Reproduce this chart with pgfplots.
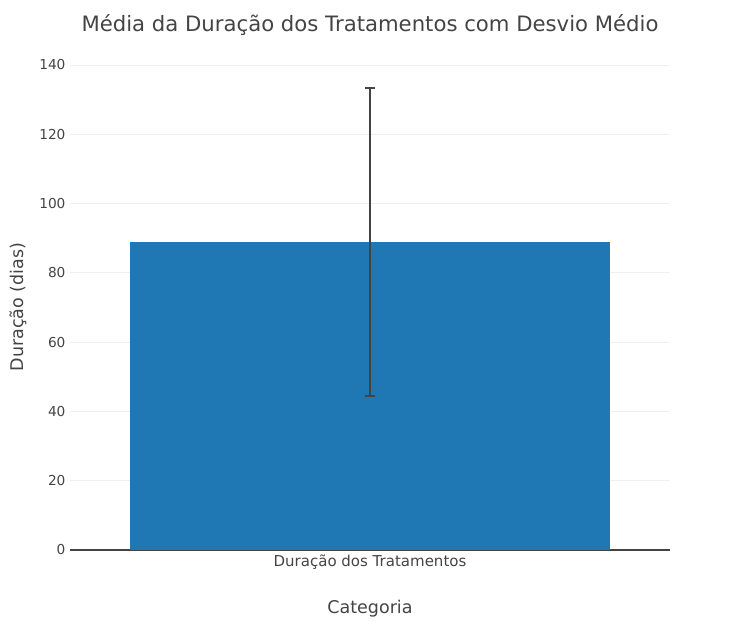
\documentclass[border=0pt]{standalone}
\usepackage{fontspec}
\setmainfont{DejaVu Sans}
\usepackage{pgfplots}
\pgfplotsset{compat=1.18}
\definecolor{barblue}{HTML}{1F77B4}
\definecolor{txt}{HTML}{444444}
\definecolor{gridc}{HTML}{EEEEEE}
\begin{document}
\begin{tikzpicture}
\useasboundingbox (-70pt,-79pt) rectangle (683pt,550pt);
\begin{axis}[
  at={(0,0)}, anchor=south west,
  scale only axis,
  width=600pt, height=485pt,
  xmin=-0.5, xmax=0.5,
  ymin=0, ymax=140,
  ytick={0,20,...,140},
  xtick={0},
  xticklabels={Duração dos Tratamentos},
  axis line style={draw=none},
  ymajorgrids,
  major grid style={gridc, line width=0.8pt},
  major tick length=0pt,
  yticklabel style={font=\fontsize{13.7}{16}\selectfont, text=txt, xshift=-1pt},
  xticklabel style={font=\fontsize{15}{18}\selectfont, text=txt, yshift=-1pt},
  /pgf/number format/assume math mode=true,
  clip=false,
]
\draw[txt, line width=1.6pt] (axis cs:-0.5,0) -- (axis cs:0.5,0);
\addplot[ybar, bar width=480pt, fill=barblue, draw=none,
  error bars/.cd, y dir=both, y explicit,
  error bar style={txt, line width=2pt},
  error mark options={rotate=90, mark size=5pt, txt, line width=2pt}]
  coordinates {(0,89.0) +- (0,44.5)};
\end{axis}
\node[text=txt, font=\fontsize{21.2}{25}\selectfont] at (300pt,525pt) {Média da Duração dos Tratamentos com Desvio Médio};
\node[text=txt, font=\fontsize{17.5}{21}\selectfont] at (300pt,-59pt) {Categoria};
\node[text=txt, font=\fontsize{17.5}{21}\selectfont, rotate=90] at (-52pt,243pt) {Duração (dias)};
\end{tikzpicture}
\end{document}
